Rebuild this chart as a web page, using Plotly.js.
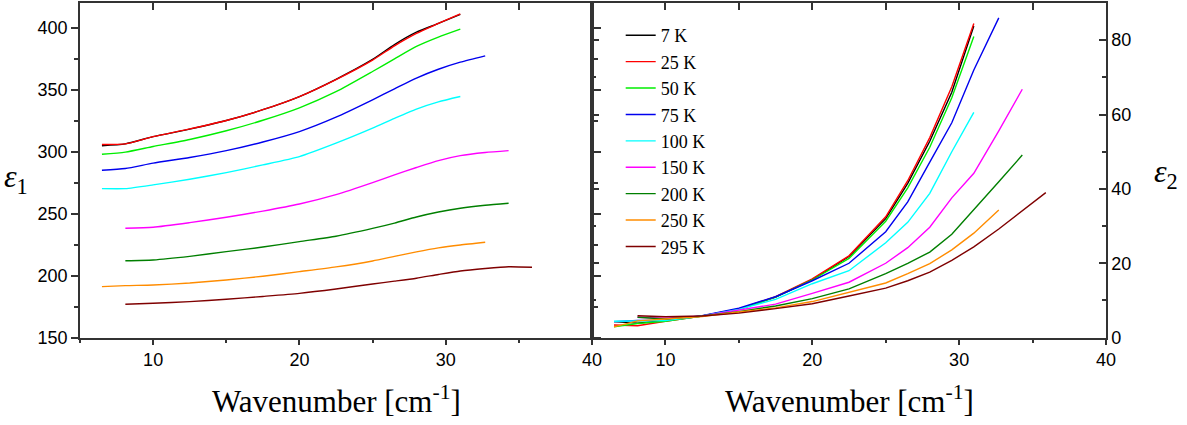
<!DOCTYPE html>
<html><head><meta charset="utf-8">
<script src="https://cdn.plot.ly/plotly-3.0.1.min.js"></script>
<style>html,body{margin:0;padding:0;background:#fff;}#chart{width:1187px;height:425px;}</style>
</head><body><div id="chart"></div>
<script>
// Wavenumber grid [cm^-1]
const wavenumber = [6.5, 8.1, 10, 12.5, 15, 17.5, 20, 22.5, 25, 26.5, 28, 29.5, 31, 32.7, 34.3, 35.9];
const temperatureLabels = ['7 K', '25 K', '50 K', '75 K', '100 K', '150 K', '200 K', '250 K', '295 K'];
const xTickValues = [10, 20, 30, 40];

// epsilon_1 (left panel)
const eps1_7K   = [305, 306.5, 312.3, 318.3, 325.3, 334, 344.6, 358.5, 374.5, 386.5, 396.5, 403.5, 410.8, null, null, null];
const eps1_25K  = [306, 306.5, 312.3, 318.5, 325.3, 334, 344.6, 358.3, 374, 385.5, 395.5, 403.5, 411.3, null, null, null];
const eps1_50K  = [298.1, 299.8, 304.3, 310, 317, 325.5, 335.5, 348.5, 364.8, 375, 385, 392.5, 398.9, null, null, null];
const eps1_75K  = [285.2, 286.6, 290.9, 295.5, 301, 308, 316.4, 328, 342, 350.8, 359.5, 366.6, 372.3, 377.4, null, null];
const eps1_100K = [270.4, 270.4, 273.4, 278, 283.3, 289.5, 296.2, 307, 319.1, 327, 334.5, 340.3, 344.6, null, null, null];
const eps1_150K = [null, 238.5, 239.3, 243, 247.3, 252.3, 258, 265.5, 275.2, 281.5, 287.4, 293, 297, 299.5, 301, null];
const eps1_200K = [null, 212.3, 212.9, 215.8, 219.6, 223.3, 227.7, 232, 238.3, 242.6, 247.5, 251.5, 254.6, 257, 258.6, null];
const eps1_250K = [191.4, 192.2, 192.7, 194.3, 196.8, 199.8, 203.5, 207.3, 212.1, 215.8, 219.4, 222.6, 225, 227.2, null, null];
const eps1_295K = [null, 177.2, 178, 179.3, 181.2, 183.5, 186, 189.5, 193.5, 195.8, 198.2, 201.2, 204, 206, 207.4, 207];

// epsilon_2 (right panel)
const eps2_7K   = [4.3, 3.9, 4.6, 5.8, 7.6, 10.9, 15.6, 21.8, 32.0, 41.5, 52.8, 66.0, 83.8, null, null, null];
const eps2_25K  = [3.4, 3.2, 4.4, 5.8, 7.7, 11.0, 15.8, 22.0, 32.5, 42.2, 53.8, 67.5, 84.5, null, null, null];
const eps2_50K  = [2.9, 3.8, 4.4, 5.8, 7.6, 10.9, 15.5, 21.3, 31.3, 40.3, 51.2, 64.5, 81.0, null, null, null];
const eps2_75K  = [4.3, 4.6, 4.7, 5.9, 7.9, 11.0, 15.3, 20.0, 28.5, 36.5, 47.2, 57.8, 72.0, 86.0, null, null];
const eps2_100K = [4.4, 4.4, 4.6, 5.8, 7.6, 10.3, 14.5, 18.0, 25.5, 31.0, 38.8, 50.0, 60.6, null, null, null];
const eps2_150K = [null, 5.5, 5.2, 5.8, 7.3, 9.0, 11.9, 14.9, 20.0, 24.2, 29.7, 37.6, 44.2, 55.6, 66.8, null];
const eps2_200K = [null, 5.5, 5.0, 5.8, 7.0, 8.5, 10.5, 13.1, 17.2, 20.0, 23.0, 27.8, 34.3, 41.9, 49.1, null];
const eps2_250K = [2.9, 4.5, 5.0, 5.7, 6.9, 8.0, 9.7, 12.2, 14.7, 17.2, 19.9, 23.6, 28.1, 34.3, null, null];
const eps2_295K = [null, 5.9, 5.6, 5.8, 6.6, 7.8, 9.1, 11.2, 13.3, 15.3, 17.6, 20.8, 24.4, 29.2, 34.1, 39.0];

const eps1Series = [eps1_7K, eps1_25K, eps1_50K, eps1_75K, eps1_100K, eps1_150K, eps1_200K, eps1_250K, eps1_295K];
const eps2Series = [eps2_7K, eps2_25K, eps2_50K, eps2_75K, eps2_100K, eps2_150K, eps2_200K, eps2_250K, eps2_295K];
const lineColors = ['#000000', '#ff0000', '#00ee00', '#0000ee', '#00ffff', '#ff00ff', '#007f00', '#ff8c00', '#7f0000'];

const traces = [];
temperatureLabels.forEach((name, i) => {
  traces.push({x: wavenumber, y: eps1Series[i], xaxis: 'x', yaxis: 'y', type: 'scatter', mode: 'lines',
    name: name, legendgroup: name, line: {color: lineColors[i], width: 1.4, shape: 'spline', smoothing: 0.6},
    connectgaps: false});
});
temperatureLabels.forEach((name, i) => {
  traces.push({x: wavenumber, y: eps2Series[i], xaxis: 'x2', yaxis: 'y2', type: 'scatter', mode: 'lines',
    name: name, legendgroup: name, showlegend: false, line: {color: lineColors[i], width: 1.4},
    connectgaps: false});
});
// transparent copies on separate co-located subplots that carry the top inside ticks
traces.push({x: wavenumber, y: eps1_7K, xaxis: 'x3', yaxis: 'y3', type: 'scatter', mode: 'lines', opacity: 0,
  showlegend: false, hoverinfo: 'skip'});
traces.push({x: wavenumber, y: eps2_7K, xaxis: 'x4', yaxis: 'y4', type: 'scatter', mode: 'lines', opacity: 0,
  showlegend: false, hoverinfo: 'skip'});

const axisLine = {showline: true, linecolor: '#333', linewidth: 1.5, showgrid: false, zeroline: false,
  tickcolor: '#333', tickwidth: 1.5};
const sans = "'Liberation Sans', Arial, sans-serif";
const serif = "'Liberation Serif', 'Times New Roman', serif";
const tickFont = {family: sans, size: 18, color: '#000'};
const topTicks = {side: 'top', range: [5, 40], tickmode: 'linear', tick0: 0, dtick: 5, ticks: 'inside', ticklen: 7,
  tickcolor: '#333', tickwidth: 1.5, showticklabels: false, showline: false, showgrid: false, zeroline: false};
const hiddenY = {domain: [0, 1], showticklabels: false, ticks: '', showline: false, showgrid: false, zeroline: false};

const layout = {
  width: 1187, height: 425,
  margin: {l: 80, r: 81, t: 3, b: 87},
  paper_bgcolor: '#fff', plot_bgcolor: 'rgba(0,0,0,0)',
  showlegend: true,
  legend: {x: 0.527, y: 0.958, xanchor: 'left', yanchor: 'top', bgcolor: 'rgba(0,0,0,0)',
    font: {family: serif, size: 18, color: '#000'}, tracegroupgap: 0},
  xaxis: Object.assign({}, axisLine, {domain: [0, 0.499], anchor: 'y', range: [5, 40],
    tickmode: 'array', tickvals: xTickValues,
    ticks: 'outside', ticklen: 5, mirror: true, tickfont: tickFont,
    minor: {dtick: 5, tick0: 0, ticks: 'outside', ticklen: 3, tickcolor: '#333', tickwidth: 1.5}}),
  xaxis2: Object.assign({}, axisLine, {domain: [0.499, 1], anchor: 'y2', range: [5, 40],
    tickmode: 'array', tickvals: xTickValues,
    ticks: 'outside', ticklen: 5, mirror: true, tickfont: tickFont,
    minor: {dtick: 5, tick0: 0, ticks: 'outside', ticklen: 3, tickcolor: '#333', tickwidth: 1.5}}),
  xaxis3: Object.assign({}, topTicks, {domain: [0, 0.499], anchor: 'y3'}),
  xaxis4: Object.assign({}, topTicks, {domain: [0.499, 1], anchor: 'y4'}),
  yaxis: Object.assign({}, axisLine, {domain: [0, 1], anchor: 'x', range: [150, 420], tick0: 150, dtick: 50,
    ticks: 'outside', ticklen: 7, mirror: 'ticks', tickfont: tickFont,
    minor: {dtick: 25, tick0: 0, ticks: 'outside', ticklen: 4, tickcolor: '#333', tickwidth: 1.5}}),
  yaxis2: Object.assign({}, axisLine, {domain: [0, 1], anchor: 'x2', side: 'right', range: [-0.1, 90], tick0: 0, dtick: 20,
    ticks: 'inside', ticklen: 7, mirror: 'ticks', tickfont: tickFont,
    minor: {dtick: 10, tick0: 0, ticks: 'inside', ticklen: 4, tickcolor: '#333', tickwidth: 1.5}}),
  yaxis3: Object.assign({}, hiddenY, {anchor: 'x3', range: [150, 420]}),
  yaxis4: Object.assign({}, hiddenY, {anchor: 'x4', range: [-0.1, 90]}),
  annotations: [
    {xref: 'paper', yref: 'paper', x: 0.25, y: -0.185, xanchor: 'center', yanchor: 'middle', showarrow: false,
      text: 'Wavenumber [cm<sup>-1</sup>]', font: {family: serif, size: 31, color: '#000'}},
    {xref: 'paper', yref: 'paper', x: 0.75, y: -0.185, xanchor: 'center', yanchor: 'middle', showarrow: false,
      text: 'Wavenumber [cm<sup>-1</sup>]', font: {family: serif, size: 31, color: '#000'}},
    {xref: 'paper', yref: 'paper', x: -0.062, y: 0.475, xanchor: 'center', yanchor: 'middle', showarrow: false,
      text: '<i>ε</i><sub>1</sub>', font: {family: serif, size: 32, color: '#000'}},
    {xref: 'paper', yref: 'paper', x: 1.058, y: 0.49, xanchor: 'center', yanchor: 'middle', showarrow: false,
      text: '<i>ε</i><sub>2</sub>', font: {family: serif, size: 32, color: '#000'}}
  ]
};

Plotly.newPlot('chart', traces, layout, {displayModeBar: false});
</script>
</body></html>
